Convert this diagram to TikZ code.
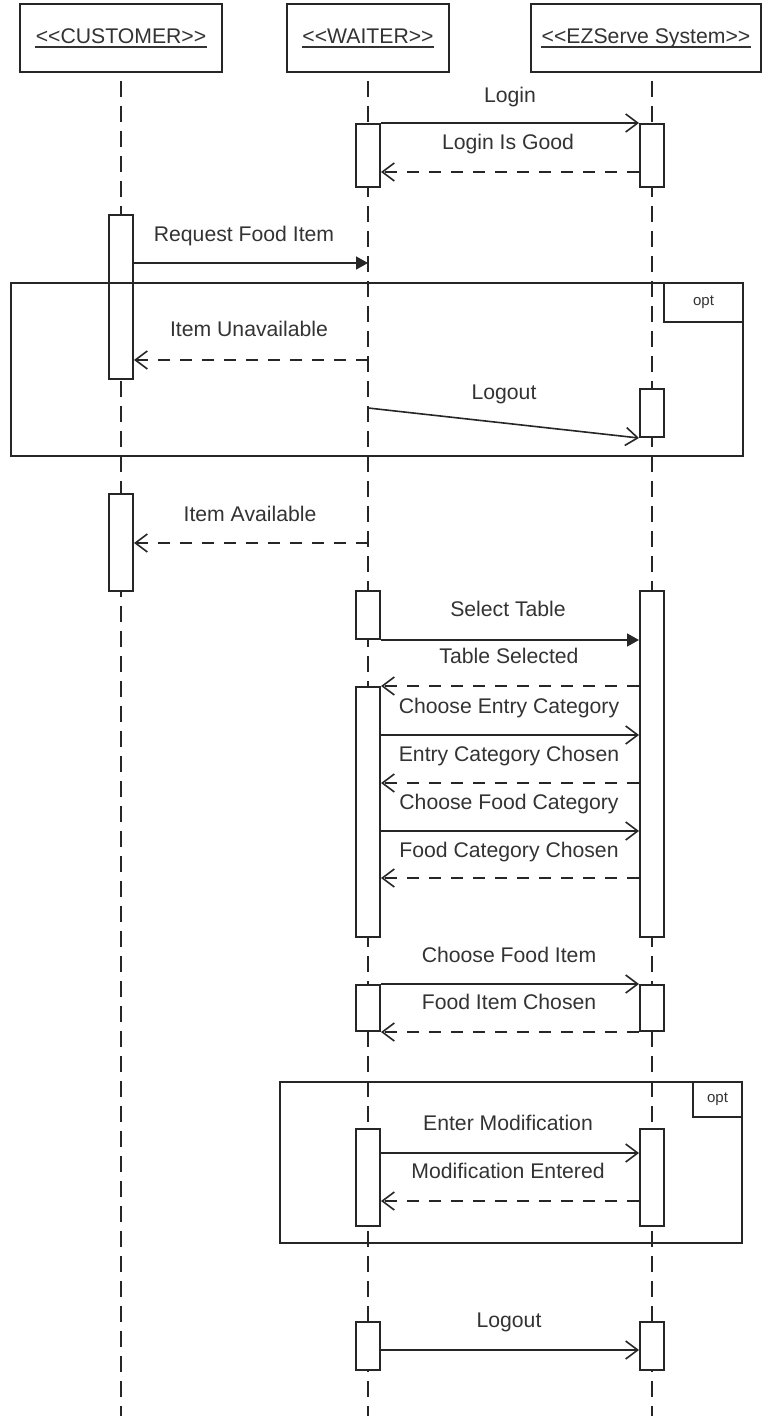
\documentclass[tikz,border=0pt]{standalone}
\usepackage{fontspec}
\setmainfont{Liberation Sans}
\usetikzlibrary{arrows.meta,fit}
\begin{document}
\begin{tikzpicture}[x=0.5pt,y=-0.5pt,
  hdr/.style={draw=black!85,line width=1pt,inner sep=0pt,fill=white},
  act/.style={draw=black!85,line width=1pt,fill=white,inner sep=0pt},
  frm/.style={draw=black!85,line width=1pt,inner sep=0pt},
  lbl/.style={text=black!80,font=\fontsize{10.6pt}{12pt}\selectfont,inner sep=0pt,anchor=base},
  optlbl/.style={text=black!80,font=\fontsize{7.5pt}{9pt}\selectfont,inner sep=0pt},
  life/.style={draw=black!85,line width=0.9pt,dash pattern=on 8pt off 4.5pt,dash phase=8.5pt},
  msg/.style={draw=black!85,line width=0.8pt,-{Straight Barb[length=6pt,width=9pt]}},
  ret/.style={msg,dash pattern=on 6pt off 5pt},
  sync/.style={draw=black!85,line width=0.8pt,-{Triangle[length=6pt,width=6.5pt]}},
  uline/.style={draw=black!80,line width=0.75pt},
]
\useasboundingbox (0,0) rectangle (763,1416);

% headers
\node[hdr, fit={(19.5,4) (222,72)}] (cust) {};
\node[hdr, fit={(287,4) (449,72)}] (wait) {};
\node[hdr, fit={(531,4) (761,72)}] (sys) {};
\node[lbl] (custt) at (121,44) {<{}<CUSTOMER>{}>};
\node[lbl] (waitt) at (368,44) {<{}<WAITER>{}>};
\node[lbl] (syst) at (646,44) {<{}<EZServe System>{}>};
\draw[uline] ([yshift=-1.5pt]custt.base west) -- ([yshift=-1.5pt]custt.base east);
\draw[uline] ([yshift=-1.5pt]waitt.base west) -- ([yshift=-1.5pt]waitt.base east);
\draw[uline] ([yshift=-1.5pt]syst.base west) -- ([yshift=-1.5pt]syst.base east);

% lifelines
\coordinate (cl) at (121,1416);
\coordinate (wl) at (368,1416);
\coordinate (sl) at (652,1416);
\draw[life] (cl |- cust.south) -- (cl);
\draw[life] (wl |- wait.south) -- (wl);
\draw[life] (sl |- sys.south) -- (sl);

% activation boxes
\node[act, fit={(356,124) (380,187)}] (w1) {};
\node[act, fit={(640,124) (664,187)}] (s1) {};
\node[act, fit={(108.5,215) (133,379)}] (c1) {};
\node[act, fit={(640,389) (664,437)}] (s2) {};
\node[act, fit={(108.5,494) (133,591)}] (c2) {};
\node[act, fit={(356,591) (380,639)}] (w3) {};
\node[act, fit={(640,591) (664,937)}] (s3) {};
\node[act, fit={(356,687) (380,937)}] (w4) {};
\node[act, fit={(356,985) (380,1031)}] (w5) {};
\node[act, fit={(640,985) (664,1031)}] (s5) {};
\node[act, fit={(356,1129) (380,1226)}] (w6) {};
\node[act, fit={(640,1129) (664,1226)}] (s6) {};
\node[act, fit={(356,1322) (380,1370)}] (w7) {};
\node[act, fit={(640,1322) (664,1370)}] (s7) {};

% opt frames
\node[frm, fit={(11,283) (743,456)}] (opt1) {};
\node[frm, fit={(664,283) (743,322)}] (tab1) {};
\node[optlbl] at (tab1.center) {opt};
\node[frm, fit={(280,1082) (742,1243)}] (opt2) {};
\node[frm, fit={(693,1082) (742,1117)}] (tab2) {};
\node[optlbl] at (tab2.center) {opt};

% messages
\draw[msg] (w1.north east) -- (s1.north west);
\node[lbl] at (510,102.5) {Login};
\draw[ret] (s1.west |- 0,172) -- (w1.east |- 0,172);
\node[lbl] at (508,150) {Login Is Good};

\coordinate (rq) at (368,263);
\draw[sync] (c1.east |- rq) -- (rq);
\node[lbl] at (244,242) {Request Food Item};

\coordinate (iu) at (368,360);
\draw[ret] (iu) -- (c1.east |- iu);
\node[lbl] at (249,337) {Item Unavailable};

\coordinate (lo) at (368,408);
\draw[msg] (lo) -- (s2.south west);
\node[lbl] at (504,400) {Logout};

\coordinate (ia) at (368,543);
\draw[ret] (ia) -- (c2.east |- ia);
\node[lbl] at (250,521) {Item Available};

\draw[sync] (w3.south east) -- (s3.west |- w3.south);
\node[lbl] at (508,616) {Select Table};
\draw[ret] (s3.west |- w4.north) -- (w4.north east);
\node[lbl] at (509,663) {Table Selected};
\draw[msg] (w4.east |- 0,735) -- (s3.west |- 0,735);
\node[lbl] at (509,713) {Choose Entry Category};
\draw[ret] (s3.west |- 0,783) -- (w4.east |- 0,783);
\node[lbl] at (509,761) {Entry Category Chosen};
\draw[msg] (w4.east |- 0,831) -- (s3.west |- 0,831);
\node[lbl] at (509,809) {Choose Food Category};
\draw[ret] (s3.west |- 0,878) -- (w4.east |- 0,878);
\node[lbl] at (509,857) {Food Category Chosen};

\draw[msg] (w5.north east) -- (s5.north west);
\node[lbl] at (509,962) {Choose Food Item};
\draw[ret] (s5.west |- 0,1032) -- (w5.east |- 0,1032);
\node[lbl] at (509,1009) {Food Item Chosen};

\draw[msg] (w6.east |- 0,1153) -- (s6.west |- 0,1153);
\node[lbl] at (508,1130) {Enter Modification};
\draw[ret] (s6.west |- 0,1201) -- (w6.east |- 0,1201);
\node[lbl] at (508,1178) {Modification Entered};

\draw[msg] (w7.east |- 0,1350) -- (s7.west |- 0,1350);
\node[lbl] at (509,1327) {Logout};
\end{tikzpicture}
\end{document}
